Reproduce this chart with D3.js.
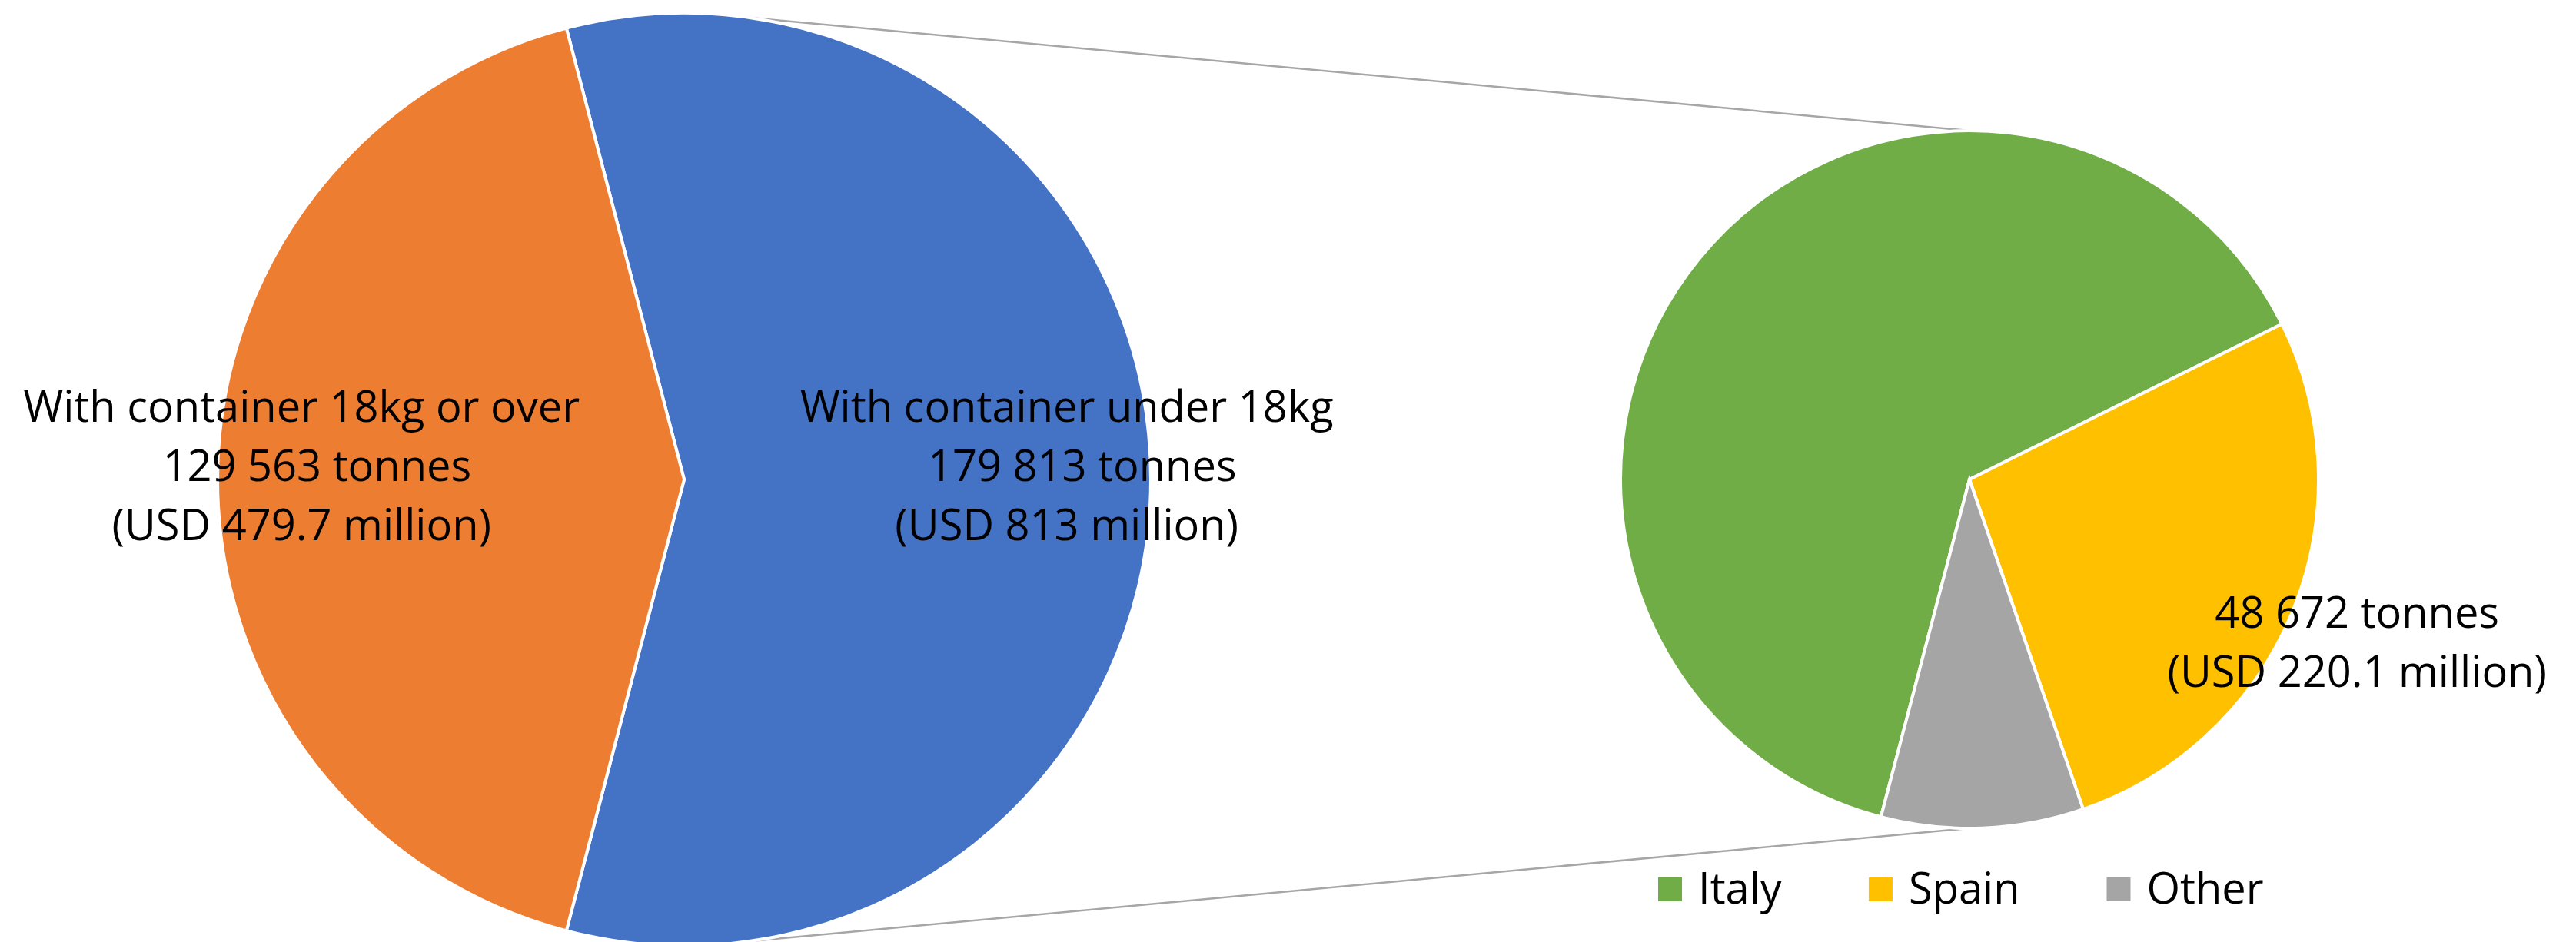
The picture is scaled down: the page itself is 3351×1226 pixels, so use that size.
<!DOCTYPE html>
<html>
<head>
<meta charset="utf-8">
<script src="https://cdn.jsdelivr.net/npm/d3@7/dist/d3.min.js"></script>
<style>
  html, body { margin: 0; padding: 0; background: #ffffff; }
  svg { display: block; }
  text { font-family: "Open Sans", "Noto Sans", sans-serif; fill: #000; }
</style>
</head>
<body>
<div id="chart"></div>
<script>
// ---------------- DATA ----------------
const mainCategories = ["With container under 18kg", "With container 18kg or over"];
const mainTonnes = [179813, 129563];
const mainUSDmillion = [813, 479.7];

const detailCategories = ["Italy", "Spain", "Other"];
const detailTonnes = [114300, 48672, 16841];
const detailUSDmillion = [null, 220.1, null];
const detailLabelled = ["Spain"];

const mainColors = ["#4472C4", "#ED7D31"];
const detailColors = ["#70AD47", "#FFC000", "#A5A5A5"];

// ---------------- LAYOUT ----------------
const W = 3351, H = 1226;
const leftPie = { cx: 890, cy: 624, r: 607 };
const rightPie = { cx: 2562, cy: 624, r: 454 };
const deg = Math.PI / 180;
const fontSize = 56;
const lineH = 77;

const fmt = d3.formatLocale({ decimal: ".", thousands: " ", grouping: [3], currency: ["", ""] }).format(",");

const svg = d3.select("#chart").append("svg")
  .attr("width", W).attr("height", H)
  .attr("viewBox", `0 0 ${W} ${H}`);
svg.append("rect").attr("width", W).attr("height", H).attr("fill", "#fff");

// connector lines (drawn under the pies)
const connAngle = 7.9 * deg;
const connectors = [1, -1].map(s => ({
  x1: leftPie.cx + leftPie.r * Math.sin(connAngle),
  y1: leftPie.cy - s * leftPie.r * Math.cos(connAngle),
  x2: rightPie.cx,
  y2: rightPie.cy - s * rightPie.r
}));
svg.append("g").selectAll("line").data(connectors).join("line")
  .attr("x1", d => d.x1).attr("y1", d => d.y1)
  .attr("x2", d => d.x2).attr("y2", d => d.y2)
  .attr("stroke", "#A6A6A6").attr("stroke-width", 2.5);

// ---- main pie: the split slice is centred on the right ----
const mainTotal = d3.sum(mainTonnes);
const splitFrac = mainTonnes[0] / mainTotal;
const mainStart = Math.PI / 2 - splitFrac * Math.PI;
const mainPie = d3.pie().sort(null).value(d => d.value)
  .startAngle(mainStart).endAngle(mainStart + 2 * Math.PI);
const mainData = mainPie(mainCategories.map((c, i) => ({ name: c, value: mainTonnes[i], usd: mainUSDmillion[i], color: mainColors[i] })));
const mainArc = d3.arc().innerRadius(0).outerRadius(leftPie.r);
const mainLabelArc = d3.arc().innerRadius(leftPie.r * 0.82).outerRadius(leftPie.r * 0.82);

const gMain = svg.append("g").attr("transform", `translate(${leftPie.cx},${leftPie.cy})`);
gMain.selectAll("path").data(mainData).join("path")
  .attr("d", mainArc)
  .attr("fill", d => d.data.color)
  .attr("stroke", "#fff").attr("stroke-width", 4).attr("stroke-linejoin", "miter");

// ---- detail pie ----
const detailStart = -165.3 * deg;
const detailPie = d3.pie().sort(null).value(d => d.value)
  .startAngle(detailStart).endAngle(detailStart + 2 * Math.PI);
const detailData = detailPie(detailCategories.map((c, i) => ({ name: c, value: detailTonnes[i], usd: detailUSDmillion[i], color: detailColors[i] })));
const detailArc = d3.arc().innerRadius(0).outerRadius(rightPie.r);
const detailLabelArc = d3.arc().innerRadius(rightPie.r * 1.2).outerRadius(rightPie.r * 1.2);

const gDetail = svg.append("g").attr("transform", `translate(${rightPie.cx},${rightPie.cy})`);
gDetail.selectAll("path").data(detailData).join("path")
  .attr("d", detailArc)
  .attr("fill", d => d.data.color)
  .attr("stroke", "#fff").attr("stroke-width", 4).attr("stroke-linejoin", "miter");

// ---- labels ----
function drawLabel(g, pos, lines, dxs, dy) {
  const n = lines.length;
  const t = g.append("text")
    .attr("text-anchor", "middle")
    .attr("font-size", fontSize);
  lines.forEach((ln, i) => {
    t.append("tspan")
      .attr("x", pos[0] + (dxs[i] || 0))
      .attr("y", pos[1] + dy + (i - (n - 1) / 2) * lineH + 2)
      .text(ln);
  });
}
mainData.forEach(d => {
  drawLabel(gMain, mainLabelArc.centroid(d), [
    d.data.name,
    `${fmt(d.data.value)} tonnes`,
    `(USD ${d.data.usd} million)`
  ], [0, 20, 0], 0);
});
detailData.filter(d => detailLabelled.includes(d.data.name)).forEach(d => {
  drawLabel(gDetail, detailLabelArc.centroid(d), [
    `${fmt(d.data.value)} tonnes`,
    `(USD ${d.data.usd} million)`
  ], [0, 0], 23);
});

// ---- legend ----
const legend = svg.append("g").attr("transform", "translate(2157,1142)");
let lx = 0;
detailCategories.forEach((c, i) => {
  const item = legend.append("g").attr("transform", `translate(${lx},0)`);
  item.append("rect").attr("width", 31).attr("height", 31).attr("fill", detailColors[i]);
  const tx = item.append("text").attr("x", 52).attr("y", 34)
    .attr("font-size", fontSize).text(c);
  lx += 52 + tx.node().getComputedTextLength() + 113;
});
</script>
</body>
</html>
